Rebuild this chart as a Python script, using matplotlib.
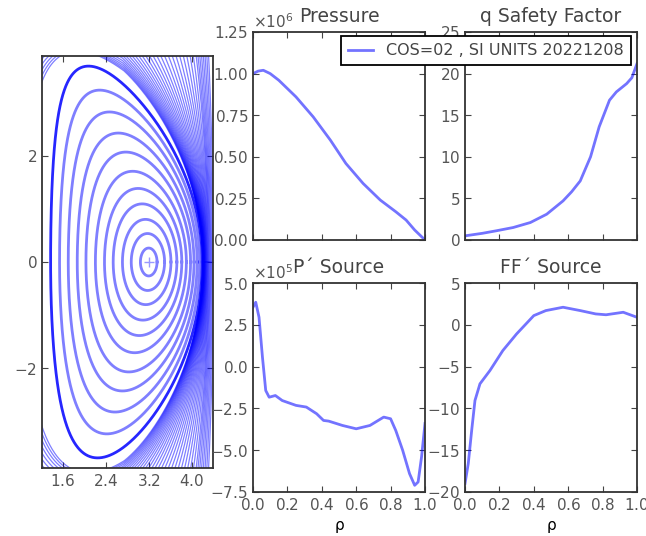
import numpy as np
import matplotlib
matplotlib.use('Agg')
import matplotlib.pyplot as plt

# ---- profile data (rho = normalised radius) ----
rho_p = [0.0, 0.03, 0.06, 0.10, 0.15, 0.25, 0.35, 0.45, 0.54, 0.64, 0.74, 0.83, 0.89, 0.94, 1.0]
pressure = [1.00, 1.015, 1.02, 1.00, 0.96, 0.86, 0.74, 0.60, 0.46, 0.34, 0.24, 0.17, 0.12, 0.06, 0.0]  # x1e6

rho_q = [0.0, 0.10, 0.18, 0.28, 0.38, 0.475, 0.57, 0.62, 0.67, 0.73, 0.78, 0.84, 0.88, 0.94, 0.97, 1.0]
q = [0.5, 0.8, 1.1, 1.5, 2.1, 3.1, 4.7, 5.8, 7.1, 10.0, 13.6, 16.8, 17.8, 18.8, 19.5, 21.2]

rho_pp = [0.0, 0.016, 0.035, 0.055, 0.074, 0.094, 0.13, 0.17, 0.25, 0.31, 0.37, 0.41, 0.44,
          0.52, 0.60, 0.68, 0.76, 0.80, 0.83, 0.87, 0.91, 0.94, 0.96, 0.98, 1.0]
pprime = [3.55, 3.85, 2.95, 0.56, -1.43, -1.83, -1.73, -2.03, -2.32, -2.42, -2.82, -3.22, -3.26,
          -3.52, -3.72, -3.52, -3.02, -3.12, -3.82, -5.0, -6.4, -7.1, -6.9, -5.4, -3.4]  # x1e5

rho_ff = [0.0, 0.019, 0.039, 0.058, 0.087, 0.145, 0.22, 0.30, 0.40, 0.47, 0.57, 0.67, 0.76, 0.82, 0.92, 1.0]
ffprime = [-19.0, -16.6, -12.6, -9.05, -7.06, -5.47, -3.08, -1.09, 1.1, 1.7, 2.1, 1.7, 1.3, 1.2, 1.5, 0.9]

# ---- flux surface shape (R, Z in m) ----
R_axis = 3.2
shift_axis = 0.42          # Shafranov shift of axis from geometric centre
R_geo = R_axis - shift_axis
minor_a = 1.41
kappa_axis, kappa_edge = 1.68, 2.61
delta_up, delta_low = 0.50, 0.38
inner_levels = [0.11, 0.22, 0.32, 0.42, 0.51, 0.60, 0.69, 0.77, 0.85, 0.925]
# extrapolated surfaces outside the boundary
shift_out, kappa_out, inboard_out = 1.2, 3.0, 8.0
outer_levels = [1 + 0.035 * 1.1 ** k for k in range(36)]

legend_label = "COS=02 , SI UNITS 20221208"

plt.rcParams['axes.formatter.use_mathtext'] = True
plt.rcParams['xtick.direction'] = 'in'
plt.rcParams['ytick.direction'] = 'in'
plt.rcParams['xtick.top'] = True
plt.rcParams['ytick.right'] = True
plt.rcParams['xtick.major.size'] = 4
plt.rcParams['ytick.major.size'] = 4
plt.rcParams['font.size'] = 11
plt.rcParams['axes.linewidth'] = 1.3
plt.rcParams['axes.edgecolor'] = '#333333'
plt.rcParams['xtick.color'] = '#444444'
plt.rcParams['ytick.color'] = '#444444'
plt.rcParams['xtick.labelcolor'] = '#555555'
plt.rcParams['ytick.labelcolor'] = '#555555'
plt.rcParams['text.color'] = '#444444'

theta = np.linspace(0, 2 * np.pi, 1441)


def surface(r):
    s = max(r - 1.0, 0.0)
    ri = min(r, 1.0)
    centre = R_geo + shift_axis * (1 - ri ** 2) - shift_out * s
    kap = kappa_axis + (kappa_edge - kappa_axis) * ri ** 2 + kappa_out * s
    d = np.where(np.sin(theta) >= 0, delta_up, delta_low) * ri ** 2 * max(0.0, 1 - s / 0.5)
    c = np.cos(theta + np.arcsin(d) * np.sin(theta))
    widen = np.where(c < 0, 1 + inboard_out * s, 1.0)
    R = centre + minor_a * r * c * widen
    Z = kap * minor_a * r * np.sin(theta)
    return R, Z


fig = plt.figure(figsize=(6.46, 5.36), dpi=100)
W, H = 646., 536.


def pos(x0, y0, x1, y1):
    return [x0 / W, 1 - y1 / H, (x1 - x0) / W, (y1 - y0) / H]


ax_eq = fig.add_axes(pos(42, 56, 213, 468))
ax_p = fig.add_axes(pos(253, 32, 425, 240))
ax_q = fig.add_axes(pos(465, 32, 637, 240))
ax_pp = fig.add_axes(pos(253, 283, 425, 492))
ax_ff = fig.add_axes(pos(465, 283, 637, 492))

# equilibrium flux surfaces
for r in outer_levels:
    R, Z = surface(r)
    ax_eq.plot(R, Z, color='b', lw=0.9, alpha=0.5)
for r in inner_levels:
    R, Z = surface(r)
    ax_eq.plot(R, Z, color='b', lw=2, alpha=0.5)
R, Z = surface(1.0)
ax_eq.plot(R, Z, color='b', lw=2, alpha=0.85)
ax_eq.plot([R_axis], [0], '+', color='b', alpha=0.4, ms=7)
ax_eq.set_xlim(1.21, 4.39)
ax_eq.set_ylim(-3.87, 3.87)
ax_eq.set_xticks([1.6, 2.4, 3.2, 4.0])
ax_eq.set_yticks([-2, 0, 2])

line_kw = dict(color='b', lw=2, alpha=0.55)
rho_ticks = [0.0, 0.2, 0.4, 0.6, 0.8, 1.0]

ax_p.plot(rho_p, np.array(pressure) * 1e6, **line_kw)
ax_p.set_xlim(0, 1)
ax_p.set_ylim(0, 1.25e6)
ax_p.set_yticks(np.arange(0, 1.26e6, 0.25e6))
ax_p.set_xticks(rho_ticks)
ax_p.set_xticklabels([])
ax_p.set_title('Pressure', fontsize=13.5, y=1.0, pad=7)

ax_q.plot(rho_q, q, label=legend_label, **line_kw)
ax_q.set_xlim(0, 1)
ax_q.set_ylim(0, 25)
ax_q.set_xticks(rho_ticks)
ax_q.set_xticklabels([])
ax_q.set_title('q Safety Factor', fontsize=13.5, y=1.0, pad=7)

ax_pp.plot(rho_pp, np.array(pprime) * 1e5, **line_kw)
ax_pp.set_xlim(0, 1)
ax_pp.set_ylim(-7.5e5, 5e5)
ax_pp.set_yticks(np.arange(-7.5e5, 5.1e5, 2.5e5))
ax_pp.ticklabel_format(axis='y', style='sci', scilimits=(0, 0))
ax_pp.set_xticks(rho_ticks)
ax_pp.set_title('P\u00b4 Source', fontsize=13.5, y=1.0, pad=7)
ax_pp.set_xlabel('\u03c1')

ax_ff.plot(rho_ff, ffprime, **line_kw)
ax_ff.set_xlim(0, 1)
ax_ff.set_ylim(-20, 5)
ax_ff.set_xticks(rho_ticks)
ax_ff.set_title('FF\u00b4 Source', fontsize=13.5, y=1.0, pad=7)
ax_ff.set_xlabel('\u03c1')

leg = ax_q.legend(loc='upper right', bbox_to_anchor=(631 / W, 1 - 36 / H),
                  bbox_transform=fig.transFigure, fontsize=11.5, fancybox=False,
                  handlelength=1.6, borderpad=0.45, borderaxespad=0)
leg.get_frame().set_edgecolor('black')
leg.get_frame().set_linewidth(1.3)
leg.get_frame().set_alpha(1)

fig.savefig('out.png', dpi=100)
